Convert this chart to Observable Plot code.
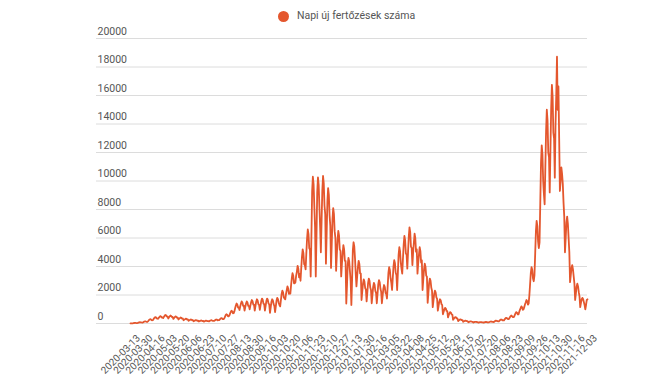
<!DOCTYPE html>
<html><head><meta charset="utf-8">
<script src="https://cdn.jsdelivr.net/npm/d3@7"></script>
<script src="https://cdn.jsdelivr.net/npm/@observablehq/plot@0.6"></script>
<style>
html,body{margin:0;padding:0;background:#fff;}
body{width:667px;height:385px;overflow:hidden;font-family:Roboto,"Noto Sans",sans-serif;}
#legend{position:relative;height:24px;}
#legend .dot{position:absolute;left:277.5px;top:11px;width:11px;height:11px;border-radius:50%;background:#e4572e;}
#legend .lab{position:absolute;left:297px;top:9px;font-size:10.5px;line-height:14px;color:#555;}
#chart svg{display:block;}
</style></head><body>
<div id="legend"><span class="dot"></span><span class="lab" id="leglab"></span></div>
<div id="chart"></div>
<script>
const seriesName = "Napi új fertőzések száma";
const yTicks = [0, 2000, 4000, 6000, 8000, 10000, 12000, 14000, 16000, 18000, 20000];
const tickLabels = [
  "2020-03-13","2020-03-30","2020-04-16","2020-05-03","2020-05-20","2020-06-06","2020-06-23",
  "2020-07-10","2020-07-27","2020-08-13","2020-08-30","2020-09-16","2020-10-03","2020-10-20",
  "2020-11-06","2020-11-23","2020-12-10","2020-12-27","2021-01-13","2021-01-30","2021-02-16",
  "2021-03-05","2021-03-22","2021-04-08","2021-04-25","2021-05-12","2021-05-29","2021-06-15",
  "2021-07-02","2021-07-20","2021-08-06","2021-08-23","2021-09-09","2021-09-26","2021-10-13",
  "2021-10-30","2021-11-16","2021-12-03"
];
const tickStep = 17;
const cases = [
  9, 5, 12,
  10, 22, 36, 40, 38, 32, 25,
  40, 60, 81, 90, 86, 72, 65,
  70, 102, 135, 150, 143, 120, 110,
  150, 210, 270, 300, 285, 240, 225,
  250, 330, 405, 450, 428, 360, 350,
  330, 406, 468, 520, 494, 416, 425,
  380, 468, 540, 600, 570, 480, 490,
  350, 434, 504, 560, 532, 448, 455,
  320, 392, 450, 500, 475, 400, 410,
  280, 336, 378, 420, 399, 336, 350,
  230, 274, 306, 340, 323, 272, 285,
  190, 226, 252, 280, 266, 224, 235,
  160, 192, 216, 240, 228, 192, 200,
  140, 168, 189, 210, 200, 168, 175,
  130, 158, 180, 200, 190, 160, 165,
  150, 182, 207, 230, 219, 184, 190,
  180, 220, 252, 280, 266, 224, 230,
  230, 290, 342, 380, 361, 304, 305,
  350, 470, 585, 650, 618, 520, 500,
  550, 690, 810, 900, 855, 720, 725,
  850, 1070, 1260, 1400, 1330, 1120, 1125,
  950, 1190, 1395, 1550, 1473, 1240, 1250,
  900, 1160, 1395, 1550, 1473, 1240, 1225,
  1000, 1260, 1485, 1650, 1568, 1320, 1325,
  900, 1220, 1530, 1700, 1615, 1360, 1300,
  950, 1270, 1575, 1750, 1663, 1400, 1350,
  900, 1240, 1575, 1750, 1663, 1400, 1325,
  750, 1130, 1530, 1700, 1615, 1360, 1225,
  800, 1200, 1620, 1800, 1710, 1440, 1300,
  1200, 1640, 2070, 2300, 2185, 1840, 1750,
  1700, 2060, 2340, 2600, 2470, 2080, 2150,
  2100, 2672, 3177, 3530, 3354, 2824, 2815,
  2900, 3360, 3645, 4050, 3848, 3240, 3475,
  3000, 3880, 4680, 5200, 4940, 4160, 4100,
  3800, 4920, 5940, 6600, 6270, 5280, 5200,
  3300, 6100, 9270, 10300, 9785, 8240, 6800,
  3300, 6080, 9225, 10250, 9738, 8200, 6775,
  5000, 7140, 9315, 10350, 9833, 8280, 7675,
  4200, 6320, 8550, 9500, 9025, 7600, 6850,
  3900, 5580, 7290, 8100, 7695, 6480, 6000,
  3700, 4820, 5850, 6500, 6175, 5200, 5100,
  3300, 4180, 4950, 5500, 5225, 4400, 4400,
  1400, 2680, 4140, 4600, 4370, 3680, 3000,
  1300, 3060, 5130, 5700, 5415, 4560, 3500,
  2600, 3320, 3960, 4400, 4180, 3520, 3500,
  1650, 2230, 2790, 3100, 2945, 2480, 2375,
  1550, 2190, 2835, 3150, 2993, 2520, 2350,
  1420, 1992, 2565, 2850, 2708, 2280, 2135,
  1420, 2072, 2745, 3050, 2898, 2440, 2235,
  1420, 1932, 2430, 2700, 2565, 2160, 2060,
  1750, 2630, 3555, 3950, 3753, 3160, 2850,
  2350, 3190, 4005, 4450, 4228, 3560, 3400,
  2350, 3550, 4815, 5350, 5083, 4280, 3850,
  3500, 4560, 5535, 6150, 5843, 4920, 4825,
  3850, 5010, 6075, 6750, 6413, 5400, 5300,
  4100, 4980, 5670, 6300, 5985, 5040, 5200,
  3500, 4240, 4815, 5350, 5083, 4280, 4425,
  2350, 3090, 3780, 4200, 3990, 3360, 3275,
  1450, 2130, 2835, 3150, 2993, 2520, 2300,
  1150, 1610, 2070, 2300, 2185, 1840, 1725,
  900, 1220, 1530, 1700, 1615, 1360, 1300,
  650, 830, 990, 1100, 1045, 880, 875,
  430, 578, 720, 800, 760, 640, 615,
  260, 336, 405, 450, 428, 360, 355,
  170, 218, 261, 290, 276, 232, 230,
  120, 152, 180, 200, 190, 160, 160,
  90, 114, 135, 150, 143, 120, 120,
  70, 90, 108, 120, 114, 96, 95,
  60, 76, 90, 100, 95, 80, 80,
  60, 80, 99, 110, 105, 88, 85,
  80, 104, 126, 140, 133, 112, 110,
  100, 140, 180, 200, 190, 160, 150,
  150, 202, 252, 280, 266, 224, 215,
  220, 292, 360, 400, 380, 320, 310,
  330, 422, 504, 560, 532, 448, 445,
  480, 608, 720, 800, 760, 640, 640,
  800, 960, 1080, 1200, 1140, 960, 1000,
  1150, 1350, 1485, 1650, 1568, 1320, 1400,
  1980, 2770, 3555, 3950, 3753, 3160, 2965,
  3370, 4900, 6480, 7200, 6840, 5760, 5285,
  5700, 8420, 11250, 12500, 11875, 10000, 9100,
  8370, 11020, 13500, 15000, 14250, 12000, 11685,
  9200, 12220, 15075, 16750, 15913, 13400, 12975,
  10230, 14000, 16000, 18720, 15000, 16630, 13000,
  9300, 10000, 10960, 10500, 9800, 8500, 7500,
  5000, 6000, 7100, 7500, 7000, 6000, 5000,
  2900, 3400, 3900, 4100, 3800, 3300, 2800,
  1650, 2100, 2600, 2800, 2600, 2200, 1900,
  1150, 1450, 1700, 1800, 1700, 1500, 1300,
  1000, 1300, 1650, 1700
];

document.getElementById("leglab").textContent = seriesName;

const data = cases.map((v, i) => ({i, v}));
const ticks = tickLabels.map((label, k) => ({i: k * tickStep, label}));

const chart = Plot.plot({
  width: 667,
  height: 361,
  marginLeft: 130,
  marginRight: 80,
  marginTop: 14,
  marginBottom: 62,
  style: {fontFamily: "Roboto, sans-serif", background: "#fff", overflow: "visible"},
  x: {domain: [0, cases.length - 1], axis: null},
  y: {domain: [0, 20000], axis: null},
  marks: [
    Plot.ruleY(yTicks, {stroke: "#dcdcdc", strokeWidth: 1, insetLeft: -34}),
    Plot.text(yTicks, {y: d => d, text: d => String(d), frameAnchor: "left", dx: -33, dy: -7,
      textAnchor: "start", fill: "#555", fontSize: 10.5}),
    Plot.line(data, {x: "i", y: "v", stroke: "#e4572e", strokeWidth: 1.8, strokeLinejoin: "round"}),
    Plot.text(ticks, {x: "i", y: () => 0, text: "label", rotate: -45, textAnchor: "end",
      dx: 8, dy: 13, fill: "#555", fontSize: 10})
  ]
});
document.getElementById("chart").appendChild(chart);
</script>
</body></html>
